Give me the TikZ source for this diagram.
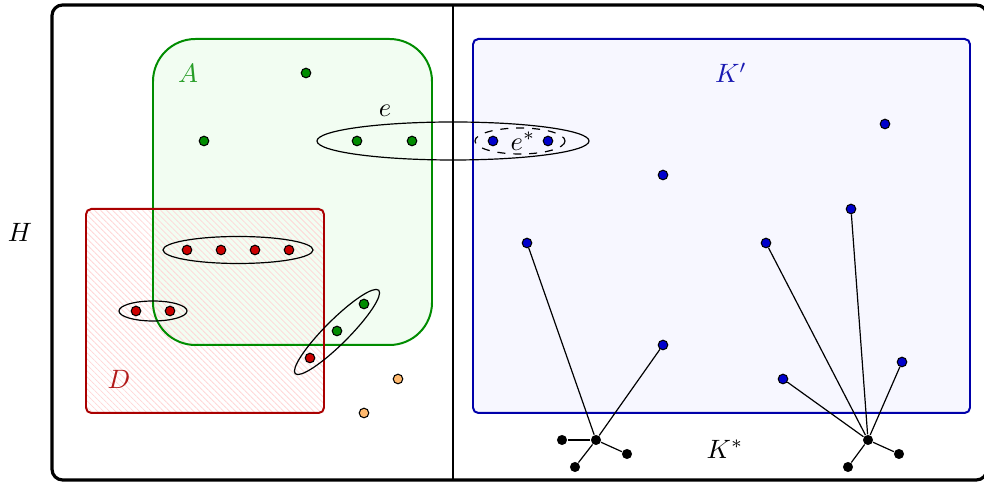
\documentclass[tikz,border=0pt]{standalone}
\usepackage{tikz}
\usetikzlibrary{patterns.meta}
\usepackage{amsmath}
\definecolor{setA}{RGB}{0,140,0}
\definecolor{setD}{RGB}{170,0,0}
\definecolor{setK}{RGB}{0,0,170}
\definecolor{rest}{RGB}{255,185,110}
\definecolor{fillA}{RGB}{242,253,242}
\definecolor{fillK}{RGB}{247,247,255}

\begin{document}
\begin{tikzpicture}[
      x=0.01324cm, y=-0.01324cm,
      region/.style={line width=0.75pt, rounded corners=2pt},
      vtx/.style={circle, draw=black, line width=0.4pt, inner sep=0pt,
                  minimum size=3.6pt},
      hub/.style={circle, fill=black, inner sep=0pt, minimum size=3.8pt},
      hedge/.style={draw=black, line width=0.45pt},
      link/.style={draw=black, line width=0.45pt}
    ]
    \useasboundingbox (0,0) rectangle (984,482);

    % host graph H and its split
    \draw[line width=1.2pt, rounded corners=4pt] (52,5) rectangle (987,480);
    \draw[line width=0.7pt] (453,5) -- (453,480);
    \node (H) at (20,232) {$H$};

    % the three vertex sets (fills first, borders on top)
    \fill[fillA, rounded corners=16pt] (153,39) rectangle (432,345);
    \fill[pattern={Lines[angle=-45, distance=1.6pt, line width=0.3pt]},
          pattern color=red!16, rounded corners=2pt] (86,209) rectangle (324,413);
    \draw[region, draw=setA, rounded corners=16pt] (153,39) rectangle (432,345);
    \draw[region, draw=setD] (86,209) rectangle (324,413);
    \draw[region, draw=setK, fill=fillK] (473,39) rectangle (970,413);
    \node[text=setA!85!white]  (lA) at (188,73)  {$A$};
    \node[text=setD!90!white]  (lD) at (119,379) {$D$};
    \node[text=setK!90!white]  (lK) at (731,73)  {$K'$};
    \node                      (lS) at (725,449) {$K^*$};

    % hyperedges
    \draw[hedge] (453,141) ellipse [x radius=136, y radius=19];
    \draw[hedge, dashed] (520,141) ellipse [x radius=45, y radius=13];
    \draw[hedge] (238,250) ellipse [x radius=75, y radius=13.5];
    \draw[hedge] (153,311) ellipse [x radius=34, y radius=10];
    \draw[hedge, rotate around={45:(337,332)}] (337,332) ellipse [x radius=59, y radius=12];
    \node (le)  at (385,111) {$e$};
    \node (les) at (523,141) {$e^*$};

    % vertices of A
    \node[vtx, fill=setA] (a1) at (306,73)  {};
    \node[vtx, fill=setA] (a2) at (204,141) {};
    \node[vtx, fill=setA] (a3) at (357,141) {};
    \node[vtx, fill=setA] (a4) at (412,141) {};
    \node[vtx, fill=setA] (a5) at (337,331) {};
    \node[vtx, fill=setA] (a6) at (364,304) {};
    % vertices of D
    \node[vtx, fill=red!80!black] (d1) at (187,250) {};
    \node[vtx, fill=red!80!black] (d2) at (221,250) {};
    \node[vtx, fill=red!80!black] (d3) at (255,250) {};
    \node[vtx, fill=red!80!black] (d4) at (289,250) {};
    \node[vtx, fill=red!80!black] (d5) at (136,311) {};
    \node[vtx, fill=red!80!black] (d6) at (170,311) {};
    \node[vtx, fill=red!80!black] (d7) at (310,358) {};
    % remaining vertices
    \node[vtx, fill=rest] (o1) at (398,379) {};
    \node[vtx, fill=rest] (o2) at (364,413) {};
    % vertices of K'
    \node[vtx, fill=blue!80!black] (k1)  at (493,141) {};
    \node[vtx, fill=blue!80!black] (k2)  at (548,141) {};
    \node[vtx, fill=blue!80!black] (k3)  at (663,175) {};
    \node[vtx, fill=blue!80!black] (k4)  at (885,124) {};
    \node[vtx, fill=blue!80!black] (k5)  at (851,209) {};
    \node[vtx, fill=blue!80!black] (k6)  at (527,243) {};
    \node[vtx, fill=blue!80!black] (k7)  at (766,243) {};
    \node[vtx, fill=blue!80!black] (k8)  at (663,345) {};
    \node[vtx, fill=blue!80!black] (k9)  at (783,379) {};
    \node[vtx, fill=blue!80!black] (k10) at (902,362) {};
    % stars of K*
    \node[hub] (s1) at (596,440) {};
    \node[hub] (s2) at (562,440) {};
    \node[hub] (s3) at (575,467) {};
    \node[hub] (s4) at (627,454) {};
    \node[hub] (t1) at (868,440) {};
    \node[hub] (t2) at (848,467) {};
    \node[hub] (t3) at (899,454) {};

    \draw[link] (s1) -- (k6);
    \draw[link] (s1) -- (k8);
    \draw[link] (s1) -- (s2);
    \draw[link] (s1) -- (s3);
    \draw[link] (s1) -- (s4);
    \draw[link] (t1) -- (k7);
    \draw[link] (t1) -- (k5);
    \draw[link] (t1) -- (k9);
    \draw[link] (t1) -- (k10);
    \draw[link] (t1) -- (t2);
    \draw[link] (t1) -- (t3);
  \end{tikzpicture}
\end{document}
